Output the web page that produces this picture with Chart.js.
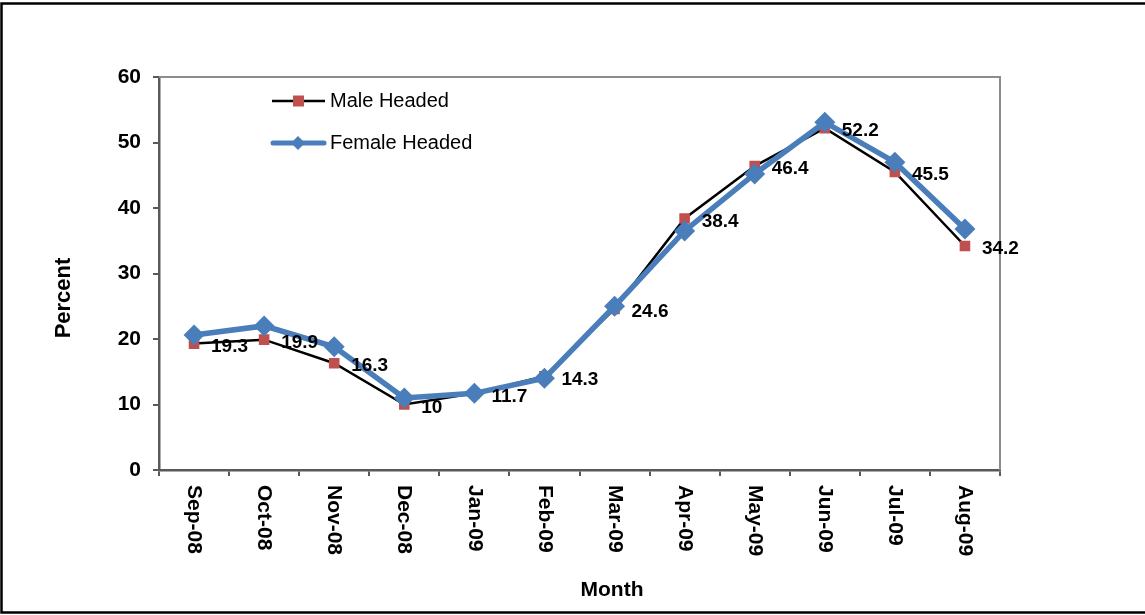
<!DOCTYPE html>
<html>
<head>
<meta charset="utf-8">
<title>Male and Female Headed by Month</title>
<script src="https://cdn.jsdelivr.net/npm/chart.js@4/dist/chart.umd.min.js"></script>
<style>
  body { margin: 0; background: #fff; }
  canvas { display: block; }
</style>
</head>
<body>
<canvas id="chart" width="1145" height="615"></canvas>
<script>
const months = ['Sep-08', 'Oct-08', 'Nov-08', 'Dec-08', 'Jan-09', 'Feb-09',
                'Mar-09', 'Apr-09', 'May-09', 'Jun-09', 'Jul-09', 'Aug-09'];
const maleHeaded = [19.3, 19.9, 16.3, 10, 11.7, 14.3, 24.6, 38.4, 46.4, 52.2, 45.5, 34.2];
const femaleHeaded = [20.6, 22.0, 18.8, 11.0, 11.7, 14.0, 25.0, 36.5, 45.2, 53.1, 47.0, 36.8];
const seriesNames = ['Male Headed', 'Female Headed'];
const yAxisTitle = 'Percent';
const xAxisTitle = 'Month';

const FONT = '"Liberation Sans", Arial, sans-serif';
const BLUE = '#4a7ebb';
const RED = '#c0504d';
const AXIS = '#595959';

document.addEventListener('DOMContentLoaded', function() {
    const ctx = document.getElementById('chart').getContext('2d');

    // white page with the outer frame (top, left, bottom edges)
    const framePlugin = {
        id: 'frame',
        beforeDraw(chart) {
            const c = chart.ctx;
            c.save();
            c.fillStyle = '#fff';
            c.fillRect(0, 0, chart.width, chart.height);
            c.strokeStyle = '#000';
            c.lineWidth = 2.5;
            c.beginPath();
            c.moveTo(chart.width, 3.5);
            c.lineTo(1.5, 3.5);
            c.lineTo(1.5, 612.5);
            c.lineTo(chart.width, 612.5);
            c.stroke();
            c.restore();
        }
    };

    // gray border on top and right of the plot area
    const plotBorderPlugin = {
        id: 'plotBorder',
        beforeDatasetsDraw(chart) {
            const a = chart.chartArea;
            const c = chart.ctx;
            c.save();
            c.strokeStyle = '#8c8c8c';
            c.lineWidth = 2;
            c.beginPath();
            c.moveTo(a.left, a.top);
            c.lineTo(a.right, a.top);
            c.lineTo(a.right, a.bottom);
            c.stroke();
            c.restore();
        }
    };

    // value labels beside the male headed points
    const valueLabelPlugin = {
        id: 'valueLabels',
        afterDatasetsDraw(chart) {
            const c = chart.ctx;
            const meta = chart.getDatasetMeta(0);
            c.save();
            c.font = 'bold 19px ' + FONT;
            c.fillStyle = '#000';
            c.textAlign = 'left';
            c.textBaseline = 'middle';
            meta.data.forEach((pt, i) => {
                c.fillText(String(maleHeaded[i]), pt.x + 17, pt.y + 3);
            });
            c.restore();
        }
    };

    // month labels read top to bottom, plus both axis titles
    const axisTextPlugin = {
        id: 'axisText',
        afterDraw(chart) {
            const c = chart.ctx;
            const x = chart.scales.x;
            c.save();
            c.fillStyle = '#000';
            c.font = 'bold 21px ' + FONT;
            c.textAlign = 'left';
            c.textBaseline = 'middle';
            months.forEach((m, i) => {
                c.save();
                c.translate(x.getPixelForTick(i), chart.chartArea.bottom + 15);
                c.rotate(Math.PI / 2);
                c.fillText(m, 0, 0);
                c.restore();
            });

            c.textAlign = 'center';
            c.fillText(xAxisTitle, 612, 590);

            c.font = 'bold 22px ' + FONT;
            c.save();
            c.translate(64, 298);
            c.rotate(-Math.PI / 2);
            c.fillText(yAxisTitle, 0, 0);
            c.restore();
            c.restore();
        }
    };

    // legend inside the plot area, top left
    const legendPlugin = {
        id: 'insideLegend',
        afterDraw(chart) {
            const c = chart.ctx;
            c.save();
            c.font = '20px ' + FONT;
            c.textAlign = 'left';
            c.textBaseline = 'middle';

            // male headed entry
            let y = 101;
            c.strokeStyle = '#000';
            c.lineWidth = 2.5;
            c.beginPath();
            c.moveTo(272, y);
            c.lineTo(325, y);
            c.stroke();
            c.fillStyle = RED;
            c.fillRect(293, y - 5.5, 11, 11);
            c.fillStyle = '#000';
            c.fillText(seriesNames[0], 330, y);

            // female headed entry
            y = 143;
            c.strokeStyle = BLUE;
            c.lineWidth = 5;
            c.lineCap = 'round';
            c.beginPath();
            c.moveTo(273, y);
            c.lineTo(324, y);
            c.stroke();
            c.fillStyle = BLUE;
            c.beginPath();
            c.moveTo(298, y - 7);
            c.lineTo(305, y);
            c.lineTo(298, y + 7);
            c.lineTo(291, y);
            c.closePath();
            c.fill();
            c.fillStyle = '#000';
            c.fillText(seriesNames[1], 330, y);
            c.restore();
        }
    };

    new Chart(ctx, {
        type: 'line',
        data: {
            labels: months,
            datasets: [{
                label: seriesNames[0],
                data: maleHeaded,
                borderColor: '#000',
                borderWidth: 2.5,
                backgroundColor: RED,
                pointStyle: 'rect',
                pointRadius: 7.5,
                pointBorderWidth: 0,
                pointBackgroundColor: RED,
                tension: 0,
                order: 1
            }, {
                label: seriesNames[1],
                data: femaleHeaded,
                borderColor: BLUE,
                borderWidth: 5.5,
                backgroundColor: BLUE,
                pointStyle: 'rectRot',
                pointRadius: 10.5,
                pointBorderWidth: 0,
                pointBackgroundColor: BLUE,
                tension: 0,
                order: 0
            }]
        },
        options: {
            responsive: false,
            animation: false,
            layout: {
                padding: { left: 0, right: 145, top: 77, bottom: 0 }
            },
            plugins: {
                legend: { display: false },
                tooltip: { enabled: false }
            },
            scales: {
                x: {
                    type: 'category',
                    offset: true,
                    grid: {
                        offset: true,
                        drawOnChartArea: false,
                        tickLength: 6,
                        color: AXIS,
                        lineWidth: 2
                    },
                    border: { color: AXIS, width: 2.5 },
                    ticks: { display: false },
                    afterFit(scale) { scale.height = 145; }
                },
                y: {
                    min: 0,
                    max: 60,
                    ticks: {
                        stepSize: 10,
                        color: '#000',
                        padding: 12,
                        font: { family: FONT, size: 21, weight: 'bold' }
                    },
                    grid: {
                        drawOnChartArea: false,
                        tickLength: 6,
                        color: AXIS,
                        lineWidth: 2
                    },
                    border: { color: AXIS, width: 2.5 },
                    afterFit(scale) { scale.width = 159; }
                }
            }
        },
        plugins: [framePlugin, plotBorderPlugin, valueLabelPlugin, axisTextPlugin, legendPlugin]
    });
});
</script>
</body>
</html>
